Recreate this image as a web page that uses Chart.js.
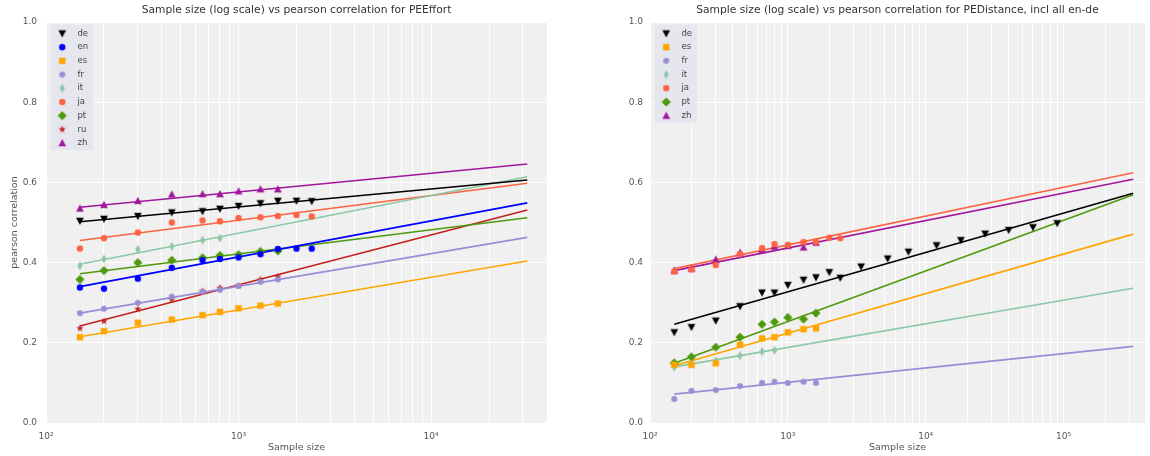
<!DOCTYPE html>
<html>
<head>
<meta charset="utf-8">
<script src="https://cdn.jsdelivr.net/npm/chart.js@4.4.1/dist/chart.umd.min.js"></script>
<style>
  html, body { margin: 0; padding: 0; background: #ffffff; }
  body { width: 1150px; height: 456px; position: relative; overflow: hidden; }
  .chartBox { position: absolute; top: 0; height: 456px; }
  #effortBox { left: 0; width: 600px; }
  #distanceBox { left: 590px; width: 560px; }
</style>
</head>
<body>
<div class="chartBox" id="effortBox"><canvas id="effortChart"></canvas></div>
<div class="chartBox" id="distanceBox"><canvas id="distanceChart"></canvas></div>
<script>
// ---- data ----

// sample sizes (x) used by the per-language points
const sizes = [150, 200, 300, 450, 650, 800, 1000, 1300, 1600, 2000, 2400];
const deSizesAll = [150, 200, 300, 450, 650, 800, 1000, 1300, 1600, 2000, 2400,
  3400, 5300, 7500, 12000, 18000, 27000, 40000, 60000, 90000];

// fitted lines run from the smallest sample to these sizes
const fitStart = 150;
const effortFitEnd = 31600;
const distanceFitEnd = 320000;

// PEEffort: pearson correlation per sample size
const effortDe = [0.504, 0.509, 0.516, 0.525, 0.528, 0.534, 0.541, 0.548, 0.554, 0.554, 0.553];
const effortEn = [0.338, 0.335, 0.360, 0.387, 0.406, 0.409, 0.413, 0.421, 0.434, 0.435, 0.435];
const effortEs = [0.214, 0.229, 0.250, 0.258, 0.269, 0.277, 0.286, 0.293, 0.298];
const effortFr = [0.274, 0.285, 0.300, 0.315, 0.327, 0.332, 0.342, 0.352, 0.358];
const effortIt = [0.392, 0.409, 0.433, 0.440, 0.456, 0.461];
const effortJa = [0.435, 0.461, 0.475, 0.500, 0.505, 0.503, 0.511, 0.513, 0.516, 0.519, 0.515];
const effortPt = [0.358, 0.380, 0.400, 0.406, 0.412, 0.418, 0.420, 0.428, 0.429];
const effortRu = [0.236, 0.254, 0.284, 0.308, 0.329, 0.337, 0.342, 0.358, 0.365];
const effortZh = [0.535, 0.544, 0.554, 0.570, 0.571, 0.571, 0.578, 0.583, 0.583];

// PEEffort fit lines: [value at fitStart, value at effortFitEnd]
const effortDeFit = [0.502, 0.606];
const effortEnFit = [0.340, 0.549];
const effortEsFit = [0.215, 0.404];
const effortFrFit = [0.274, 0.463];
const effortItFit = [0.396, 0.614];
const effortJaFit = [0.455, 0.598];
const effortPtFit = [0.372, 0.512];
const effortRuFit = [0.242, 0.531];
const effortZhFit = [0.538, 0.646];

// PEDistance (incl all en-de)
const distanceDe = [0.226, 0.239, 0.255, 0.291, 0.325, 0.325, 0.344, 0.357, 0.363, 0.376, 0.362,
  0.390, 0.410, 0.427, 0.443, 0.456, 0.472, 0.481, 0.488, 0.498];
const distanceEs = [0.145, 0.145, 0.149, 0.195, 0.211, 0.214, 0.226, 0.234, 0.236];
const distanceFr = [0.060, 0.080, 0.082, 0.092, 0.100, 0.103, 0.100, 0.103, 0.100];
const distanceIt = [0.139, 0.147, 0.155, 0.168, 0.178, 0.181];
const distanceJa = [0.378, 0.383, 0.394, 0.422, 0.436, 0.446, 0.444, 0.451, 0.452, 0.462, 0.461];
const distancePt = [0.150, 0.165, 0.189, 0.214, 0.246, 0.252, 0.263, 0.259, 0.274];
const distanceZh = [0.380, 0.385, 0.408, 0.425, 0.432, 0.440, 0.442, 0.438, 0.450];

const distanceDeFit = [0.246, 0.573];
const distanceEsFit = [0.143, 0.471];
const distanceFrFit = [0.072, 0.191];
const distanceItFit = [0.140, 0.336];
const distanceJaFit = [0.385, 0.624];
const distancePtFit = [0.149, 0.569];
const distanceZhFit = [0.380, 0.608];

const yTicks = [0, 0.2, 0.4, 0.6, 0.8, 1.0];

// ---- styling ----
const FONT = 'DejaVu Sans';
const TEXT_COLOR = '#555555';
const PLOT_BG = '#f0f0f0';
const LEGEND_BG = '#e6e6ef';

const LANG_STYLE = {
  de: { color: '#000000', shape: 'triDown' },
  en: { color: '#0000ff', shape: 'circle' },
  es: { color: '#ffa500', shape: 'square' },
  fr: { color: '#988ed5', shape: 'hexagon' },
  it: { color: '#8cc7a6', shape: 'thinDiamond' },
  ja: { color: '#fd6343', shape: 'circle' },
  pt: { color: '#4f9a0c', shape: 'diamond' },
  ru: { color: '#c4201d', shape: 'star' },
  zh: { color: '#a0169c', shape: 'triUp' }
};

// matplotlib-like markers drawn once into small canvases, used as pointStyle
function makeMarker(shape, color) {
  const c = document.createElement('canvas');
  c.width = 12;
  c.height = 12;
  const g = c.getContext('2d');
  g.translate(6, 6);
  g.fillStyle = color;
  g.beginPath();
  const poly = pts => pts.forEach(([x, y], i) => (i ? g.lineTo(x, y) : g.moveTo(x, y)));
  if (shape === 'circle') g.arc(0, 0, 3.2, 0, Math.PI * 2);
  else if (shape === 'square') g.rect(-3.2, -3.2, 6.4, 6.4);
  else if (shape === 'triDown') poly([[-3.9, -3.2], [3.9, -3.2], [0, 3.9]]);
  else if (shape === 'triUp') poly([[-3.9, 3.2], [3.9, 3.2], [0, -3.9]]);
  else if (shape === 'diamond') poly([[0, -4.6], [4.6, 0], [0, 4.6], [-4.6, 0]]);
  else if (shape === 'thinDiamond') poly([[0, -4.4], [2.6, 0], [0, 4.4], [-2.6, 0]]);
  else if (shape === 'hexagon') {
    const pts = [];
    for (let k = 0; k < 6; k++) {
      const a = Math.PI / 3 * k + Math.PI / 6;
      pts.push([3.3 * Math.cos(a), 3.3 * Math.sin(a)]);
    }
    poly(pts);
  } else if (shape === 'star') {
    const pts = [];
    for (let k = 0; k < 10; k++) {
      const a = -Math.PI / 2 + k * Math.PI / 5;
      const r = k % 2 ? 1.6 : 3.9;
      pts.push([r * Math.cos(a), r * Math.sin(a)]);
    }
    poly(pts);
  }
  g.closePath();
  g.fill();
  return c;
}

function buildDatasets(series, fitEnd) {
  const points = series.map(s => ({
    label: s.lang,
    data: s.sizes.map((x, i) => ({ x: x, y: s.values[i] })),
    pointStyle: makeMarker(LANG_STYLE[s.lang].shape, LANG_STYLE[s.lang].color),
    pointRadius: 4,
    pointHoverRadius: 4,
    showLine: false,
    order: 0
  }));
  const fits = series.map(s => ({
    label: s.lang + ' fit',
    isFit: true,
    data: [{ x: fitStart, y: s.fit[0] }, { x: fitEnd, y: s.fit[1] }],
    showLine: true,
    borderColor: LANG_STYLE[s.lang].color,
    borderWidth: 1.6,
    pointRadius: 0,
    order: 1
  }));
  return points.concat(fits);
}

const SUP = { 2: '\u00b2', 3: '\u00b3', 4: '\u2074', 5: '\u2075' };

function logGridTicks(scale) {
  const ticks = [];
  for (let e = 2; e <= 5; e++) {
    for (let m = 1; m < 10; m++) {
      const v = m * Math.pow(10, e);
      if (v >= scale.min && v <= scale.max) ticks.push({ value: v, major: m === 1 });
    }
  }
  scale.ticks = ticks;
}

// grey plot area like the matplotlib style
const plotBackground = {
  id: 'plotBackground',
  beforeDraw(chart) {
    const { ctx, chartArea: a } = chart;
    ctx.save();
    ctx.fillStyle = PLOT_BG;
    ctx.fillRect(a.left, a.top, a.right - a.left, a.bottom - a.top);
    ctx.restore();
  }
};

// shaded box behind the legend, then the legend is painted again on top of it
const legendBackground = {
  id: 'legendBackground',
  beforeDatasetsDraw(chart) {
    const legend = chart.legend;
    if (!legend || !legend.legendHitBoxes.length) return;
    const a = chart.chartArea;
    const last = legend.legendHitBoxes[legend.legendHitBoxes.length - 1];
    const ctx = chart.ctx;
    const top = a.top + 2.5;
    ctx.save();
    ctx.fillStyle = LEGEND_BG;
    ctx.fillRect(a.left + 4.5, top, 42.5, last.top + last.height + 3 - top);
    ctx.restore();
    legend.draw();
  }
};

// title centred over the plot area
const plotTitle = {
  id: 'plotTitle',
  afterDraw(chart, args, opts) {
    const { ctx, chartArea: a } = chart;
    ctx.save();
    ctx.fillStyle = '#333333';
    ctx.font = '10.7px "' + FONT + '"';
    ctx.textAlign = 'center';
    ctx.textBaseline = 'middle';
    ctx.fillText(opts.text, (a.left + a.right) / 2, 10);
    ctx.restore();
  }
};

function chartOptions(cfg) {
  return {
    responsive: true,
    maintainAspectRatio: false,
    animation: false,
    events: [],
    layout: { padding: { top: 22, right: cfg.padRight, left: 0, bottom: 0 } },
    plugins: {
      title: { display: false },
      tooltip: { enabled: false },
      plotTitle: { text: cfg.title },
      legend: {
        position: 'chartArea',
        align: 'start',
        // empty title only pushes the entries down into the plot
        title: { display: true, text: '', padding: 0, font: { size: 10, lineHeight: 2.4 } },
        labels: {
          usePointStyle: true,
          pointStyleWidth: 22,
          boxWidth: 22,
          padding: 5.2,
          color: '#444444',
          font: { family: FONT, size: 8.5 },
          filter: (item, data) => !data.datasets[item.datasetIndex].isFit
        }
      }
    },
    scales: {
      x: {
        type: 'logarithmic',
        min: 100,
        max: cfg.xMax,
        afterBuildTicks: logGridTicks,
        afterFit: s => { s.height = 33; },
        grid: { color: '#ffffff', lineWidth: 1, drawTicks: false },
        border: { display: false },
        ticks: {
          autoSkip: false,
          maxRotation: 0,
          padding: 8,
          color: TEXT_COLOR,
          font: { family: FONT, size: 9 },
          callback: v => {
            const e = Math.log10(v);
            return Math.abs(e - Math.round(e)) < 1e-9 ? '10' + SUP[Math.round(e)] : '';
          }
        },
        title: {
          display: true,
          text: 'Sample size',
          color: TEXT_COLOR,
          padding: { top: 0, bottom: 2.3 },
          font: { family: FONT, size: 9.5 }
        }
      },
      y: {
        min: 0,
        max: 1,
        afterBuildTicks: s => { s.ticks = yTicks.map(v => ({ value: v })); },
        afterFit: s => { s.width = cfg.yWidth; },
        grid: { color: '#ffffff', lineWidth: 1, drawTicks: false },
        border: { display: false },
        ticks: {
          padding: cfg.yPad,
          color: TEXT_COLOR,
          font: { family: FONT, size: 9 },
          callback: v => v.toFixed(1)
        },
        title: {
          display: cfg.yTitle,
          text: 'pearson correlation',
          color: TEXT_COLOR,
          padding: { top: 8.8, bottom: 0 },
          font: { family: FONT, size: 9.5 }
        }
      }
    }
  };
}

const effortSeries = [
  { lang: 'de', sizes: sizes, values: effortDe, fit: effortDeFit },
  { lang: 'en', sizes: sizes, values: effortEn, fit: effortEnFit },
  { lang: 'es', sizes: sizes, values: effortEs, fit: effortEsFit },
  { lang: 'fr', sizes: sizes, values: effortFr, fit: effortFrFit },
  { lang: 'it', sizes: sizes, values: effortIt, fit: effortItFit },
  { lang: 'ja', sizes: sizes, values: effortJa, fit: effortJaFit },
  { lang: 'pt', sizes: sizes, values: effortPt, fit: effortPtFit },
  { lang: 'ru', sizes: sizes, values: effortRu, fit: effortRuFit },
  { lang: 'zh', sizes: sizes, values: effortZh, fit: effortZhFit }
];

const distanceSeries = [
  { lang: 'de', sizes: deSizesAll, values: distanceDe, fit: distanceDeFit },
  { lang: 'es', sizes: sizes, values: distanceEs, fit: distanceEsFit },
  { lang: 'fr', sizes: sizes, values: distanceFr, fit: distanceFrFit },
  { lang: 'it', sizes: sizes, values: distanceIt, fit: distanceItFit },
  { lang: 'ja', sizes: sizes, values: distanceJa, fit: distanceJaFit },
  { lang: 'pt', sizes: sizes, values: distancePt, fit: distancePtFit },
  { lang: 'zh', sizes: sizes, values: distanceZh, fit: distanceZhFit }
];

Chart.defaults.font.family = FONT;

new Chart(document.getElementById('effortChart'), {
  type: 'scatter',
  data: { datasets: buildDatasets(effortSeries, effortFitEnd) },
  options: chartOptions({
    title: 'Sample size (log scale) vs pearson correlation for PEEffort',
    xMax: 40000, padRight: 53, yWidth: 46, yPad: 9, yTitle: true
  }),
  plugins: [plotBackground, legendBackground, plotTitle]
});

new Chart(document.getElementById('distanceChart'), {
  type: 'scatter',
  data: { datasets: buildDatasets(distanceSeries, distanceFitEnd) },
  options: chartOptions({
    title: 'Sample size (log scale) vs pearson correlation for PEDistance, incl all en-de',
    xMax: 390000, padRight: 2, yWidth: 60, yPad: 7, yTitle: false
  }),
  plugins: [plotBackground, legendBackground, plotTitle]
});
</script>
</body>
</html>
